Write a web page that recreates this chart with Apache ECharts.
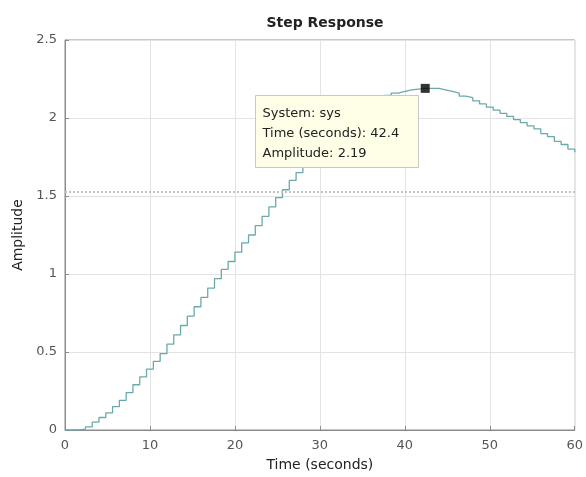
<!DOCTYPE html>
<html>
<head>
<meta charset="utf-8">
<script src="https://cdn.jsdelivr.net/npm/echarts@6/dist/echarts.min.js"></script>
<style>
  html, body { margin: 0; padding: 0; background: #fff; }
  #main { width: 586px; height: 477px; }
</style>
</head>
<body>
<div id="main"></div>
<script>
// sample instants (s), Ts = 0.8
var times = [0, 0.8, 1.6, 2.4, 3.2, 4.0, 4.8, 5.6, 6.4, 7.2, 8.0, 8.8, 9.6, 10.4, 11.2, 12.0,
    12.8, 13.6, 14.4, 15.2, 16.0, 16.8, 17.6, 18.4, 19.2, 20.0, 20.8, 21.6, 22.4, 23.2, 24.0,
    24.8, 25.6, 26.4, 27.2, 28.0, 28.8, 29.6, 30.4, 31.2, 32.0, 32.8, 33.6, 34.4, 35.2, 36.0,
    36.8, 37.6, 38.4, 39.2, 40.0, 40.8, 41.6, 42.4, 43.2, 44.0, 44.8, 45.6, 46.4, 47.2, 48.0,
    48.8, 49.6, 50.4, 51.2, 52.0, 52.8, 53.6, 54.4, 55.2, 56.0, 56.8, 57.6, 58.4, 59.2, 60.0];

// amplitude
var amplitude = [0, 0, 0.005, 0.02, 0.05, 0.08, 0.11, 0.15, 0.19, 0.24, 0.29, 0.34, 0.39, 0.44, 0.49, 0.55,
    0.61, 0.67, 0.73, 0.79, 0.85, 0.91, 0.97, 1.03, 1.08, 1.14, 1.20, 1.25, 1.31, 1.37, 1.43,
    1.49, 1.54, 1.60, 1.65, 1.70, 1.75, 1.80, 1.85, 1.90, 1.94, 1.98, 2.02, 2.05, 2.08, 2.10,
    2.125, 2.145, 2.16, 2.17, 2.18, 2.185, 2.19, 2.19, 2.19, 2.18, 2.17, 2.16, 2.14, 2.13, 2.11,
    2.09, 2.07, 2.05, 2.03, 2.01, 1.99, 1.97, 1.95, 1.93, 1.90, 1.88, 1.85, 1.83, 1.80, 1.78];

var steadyState = 1.53;
var peakPoint = [42.4, 2.19];
var tipLines = ['System: sys', 'Time (seconds): 42.4', 'Amplitude: 2.19'];

var xTicks = [0, 60, 10];
var yTicks = [0, 2.5, 0.5];

var FONT = 'DejaVu Sans';

var chart = echarts.init(document.getElementById('main'));

var seriesData = [];
for (var i = 0; i < times.length; i++) {
    seriesData.push([times[i], amplitude[i]]);
}

var axisCommon = {
    axisLine: { show: true, lineStyle: { color: '#8c8c8c', width: 1 } },
    axisTick: { show: true, inside: true, length: 4, lineStyle: { color: '#8c8c8c' } },
    splitLine: { show: true, lineStyle: { color: '#e3e3e3', width: 1 } }
};

chart.setOption({
    backgroundColor: '#fff',
    animation: false,
    title: {
        text: 'Step Response',
        left: 320,
        top: 11,
        textAlign: 'center',
        textStyle: { fontSize: 14, fontWeight: 'bold', color: '#222', fontFamily: FONT }
    },
    grid: {
        left: 65, right: 11, top: 40, bottom: 45,
        show: true, borderColor: '#8c8c8c', borderWidth: 1, backgroundColor: '#fff'
    },
    xAxis: Object.assign({
        type: 'value',
        min: xTicks[0], max: xTicks[1], interval: xTicks[2],
        name: 'Time (seconds)',
        nameLocation: 'middle',
        nameGap: 28,
        nameTextStyle: { fontSize: 14, color: '#222', fontFamily: FONT },
        axisLabel: { color: '#555', fontSize: 13, margin: 9, fontFamily: FONT }
    }, axisCommon),
    yAxis: Object.assign({
        type: 'value',
        min: yTicks[0], max: yTicks[1], interval: yTicks[2],
        name: 'Amplitude',
        nameLocation: 'middle',
        nameGap: 37,
        nameTextStyle: { fontSize: 14, color: '#222', fontFamily: FONT },
        axisLabel: { color: '#555', fontSize: 13, margin: 8, fontFamily: FONT }
    }, axisCommon),
    series: [{
        type: 'line',
        step: 'end',
        data: seriesData,
        showSymbol: false,
        lineStyle: { color: '#6aaaaa', width: 1.3 },
        markLine: {
            silent: true,
            symbol: 'none',
            label: { show: false },
            lineStyle: { color: '#c4c4c4', type: 'dotted', width: 2 },
            data: [{ yAxis: steadyState }]
        },
        z: 3
    }, {
        type: 'scatter',
        data: [peakPoint],
        symbol: 'rect',
        symbolSize: 9,
        itemStyle: { color: '#000' },
        z: 5
    }],
    graphic: [{
        type: 'group',
        left: 255,
        top: 95,
        z: 100,
        children: [{
            type: 'rect',
            z: 100,
            shape: { x: 0, y: 0, width: 163, height: 72 },
            style: { fill: '#ffffe8', stroke: '#c8c8c8', lineWidth: 1 }
        }, {
            type: 'text',
            z: 101,
            left: 7,
            top: 8,
            style: {
                text: tipLines.join('\n'),
                font: '13px "DejaVu Sans"',
                fill: '#222',
                lineHeight: 20
            }
        }]
    }]
});
</script>
</body>
</html>
